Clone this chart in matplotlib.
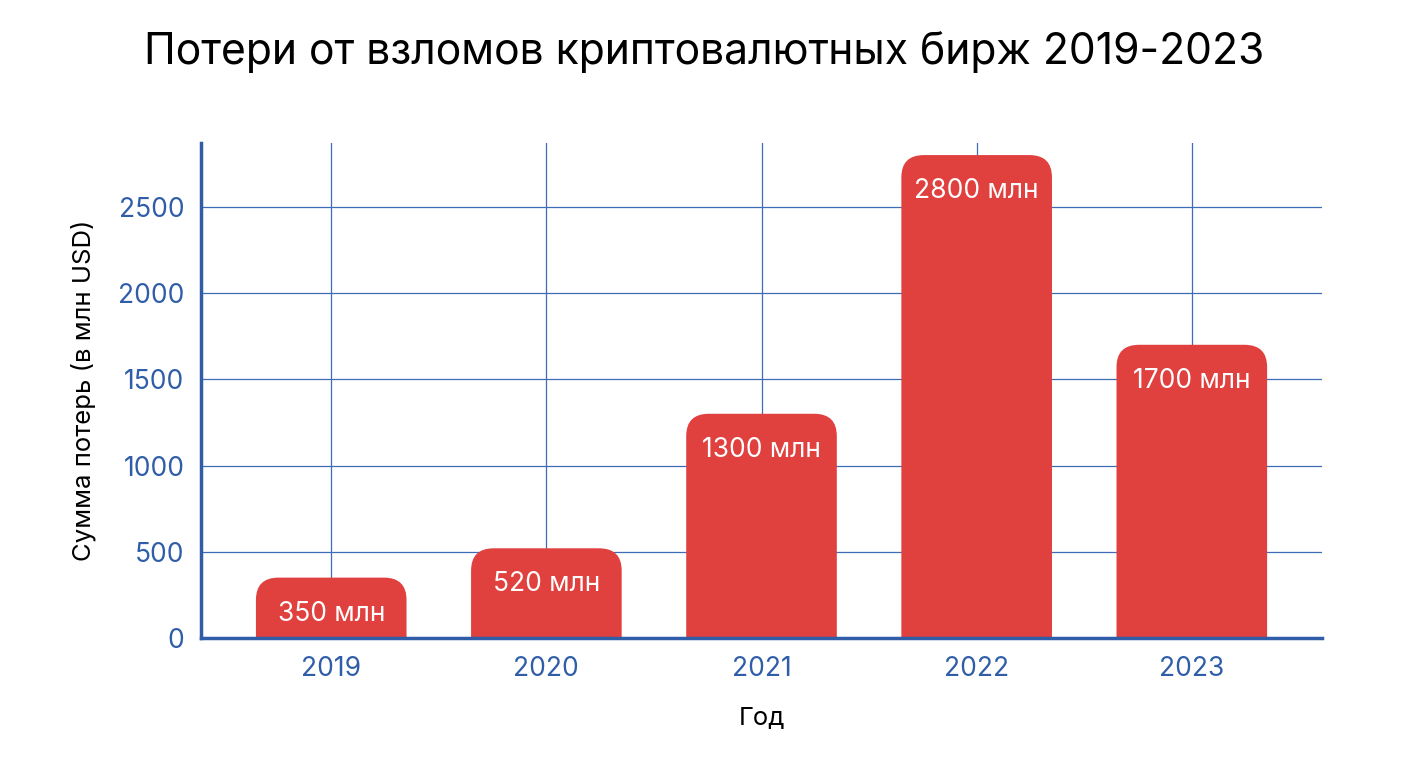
import matplotlib.pyplot as plt
from matplotlib.patches import FancyBboxPatch

plt.rcParams['font.family'] = ['Inter', 'DejaVu Sans']

years = ["2019", "2020", "2021", "2022", "2023"]
losses = [350, 520, 1300, 2800, 1700]
bar_labels = ["350 млн", "520 млн", "1300 млн", "2800 млн", "1700 млн"]
y_ticks = [0, 500, 1000, 1500, 2000, 2500]

BLUE = "#2F5DA8"
RED = "#E0403E"


def main():
    fig = plt.figure(figsize=(14.08, 7.68), dpi=100)
    ax = fig.add_axes([0.1428, 0.1693, 0.7961, 0.6445])

    x = range(len(years))
    bars = ax.bar(x, losses, width=0.70, color=RED, zorder=3)

    ax.set_xlim(-0.605, 4.605)
    ax.set_ylim(0, 2870)

    # swap plain bars for rounded ones (square bottom hidden under the axis)
    rad_x = 0.105
    aspect = 1230
    for i, b in enumerate(bars):
        b.set_visible(False)
        bx, by = b.get_x(), b.get_y()
        w, h = b.get_width(), b.get_height()
        p = FancyBboxPatch((bx + rad_x, by - 200), w - 2 * rad_x, h + 200 - rad_x * aspect,
                           boxstyle="round,pad=%f" % rad_x, mutation_aspect=aspect,
                           facecolor=RED, edgecolor="none", zorder=3)
        ax.add_patch(p)
        ax.annotate(bar_labels[i], (bx + w / 2, by + h),
                    xytext=(0, -26), textcoords="offset points",
                    ha="center", va="center", color="white", fontsize=19, zorder=4)

    ax.set_xticks(list(x))
    ax.set_xticklabels(years)
    ax.set_yticks(y_ticks)
    ax.tick_params(axis="both", length=0, labelsize=19, labelcolor=BLUE)
    ax.tick_params(axis="x", pad=13)
    ax.tick_params(axis="y", pad=12)

    ax.grid(True, color="#3E6DB5", linewidth=0.9, zorder=0)
    ax.set_axisbelow(True)

    for side in ["top", "right"]:
        ax.spines[side].set_visible(False)
    for side in ["left", "bottom"]:
        ax.spines[side].set_color(BLUE)
        ax.spines[side].set_linewidth(2.5)
        ax.spines[side].set_zorder(5)

    ax.set_xlabel("Год", fontsize=18.5, labelpad=18)
    ax.set_ylabel("Сумма потерь (в млн USD)", fontsize=18.5, labelpad=16)
    fig.suptitle("Потери от взломов криптовалютных бирж 2019-2023", fontsize=30.7, y=0.96)

    fig.savefig("out.png", dpi=100)


if __name__ == "__main__":
    main()
